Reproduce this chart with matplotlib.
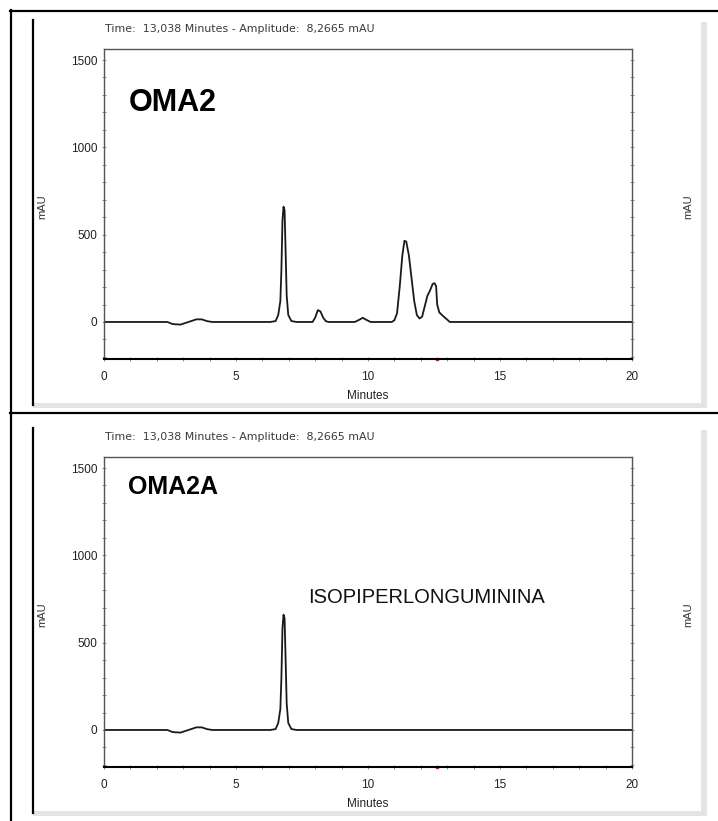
import matplotlib.pyplot as plt
from matplotlib.lines import Line2D
from matplotlib.patches import Rectangle

W, H = 718, 821
plt.rcParams['font.family'] = ['Liberation Sans', 'DejaVu Sans']

# chromatogram traces (minutes, mAU)
time_oma2 = [0.0, 2.4, 2.6, 2.9, 3.1, 3.3, 3.5, 3.7, 3.9, 4.1, 6.3, 6.5, 6.6, 6.68, 6.72,
             6.76, 6.8, 6.84, 6.88, 6.92, 6.98, 7.1, 7.3, 7.9, 8.0, 8.1, 8.2, 8.3, 8.4,
             8.5, 9.5, 9.7, 9.8, 9.9, 10.1, 10.9, 11.0, 11.1, 11.2, 11.3, 11.38, 11.45,
             11.55, 11.65, 11.75, 11.85, 11.95, 12.05, 12.15, 12.25, 12.35, 12.45, 12.52,
             12.58, 12.62, 12.7, 12.8, 12.95, 13.1, 20.0]
mau_oma2 = [0, 0, -12, -15, -5, 5, 15, 15, 5, 0, 0, 5, 40, 120, 300,
            580, 660, 640, 400, 150, 40, 5, 0, 0, 25, 68, 60, 25, 5,
            0, 0, 15, 24, 15, 0, 0, 10, 50, 200, 380, 465, 460,
            380, 250, 120, 40, 20, 30, 90, 150, 180, 218, 222,
            205, 100, 55, 40, 20, 0, 0]

time_oma2a = [0.0, 2.4, 2.6, 2.9, 3.1, 3.3, 3.5, 3.7, 3.9, 4.1, 6.3, 6.5, 6.6, 6.68, 6.72,
              6.76, 6.8, 6.84, 6.88, 6.92, 6.98, 7.1, 7.3, 20.0]
mau_oma2a = [0, 0, -12, -15, -5, 5, 15, 15, 5, 0, 0, 5, 40, 120, 300,
             580, 660, 640, 400, 150, 40, 5, 0, 0]

sample_names = ["OMA2", "OMA2A"]
title_text = "Time:  13,038 Minutes - Amplitude:  8,2665 mAU"
peak_label = "ISOPIPERLONGUMININA"
y_ticks = [0, 500, 1000, 1500]
x_ticks = [0, 5, 10, 15, 20]
cursor_time = 12.6


def fx(px):
    return px / W


def fy(py):
    return 1 - py / H


def hline(fig, x0, x1, y, color, lw):
    fig.add_artist(Line2D([fx(x0), fx(x1)], [fy(y), fy(y)], color=color, lw=lw))


def vline(fig, x, y0, y1, color, lw):
    fig.add_artist(Line2D([fx(x), fx(x)], [fy(y0), fy(y1)], color=color, lw=lw))


def draw_panel(fig, top, times, values, name, name_size, name_y, label=None):
    # window frame
    vline(fig, 32.5, top + 10, top + 395, 'black', 1.6)
    fig.add_artist(Rectangle((fx(701), fy(top + 398)), 6 / W, 386 / H, color='#e4e4e4', lw=0))
    fig.add_artist(Rectangle((fx(33), fy(top + 398)), 674 / W, 5 / H, color='#e4e4e4', lw=0))

    fig.text(fx(105), fy(top + 19), title_text, fontsize=7.9, family='DejaVu Sans',
             color='#3a3a3a', va='center')
    fig.text(fx(42), fy(top + 197), "mAU", fontsize=8, rotation=90, ha='center', va='center', color='#333333')
    fig.text(fx(688), fy(top + 197), "mAU", fontsize=8, rotation=90, ha='center', va='center', color='#333333')

    ax = fig.add_axes([fx(104), fy(top + 349), (632 - 104) / W, 310 / H])
    ax.plot(times, values, color='#1a1a1a', lw=1.3)
    ax.set_xlim(0, 20)
    ax.set_ylim(-212, 1563)
    ax.set_xticks(x_ticks)
    ax.set_xticks(range(0, 21), minor=True)
    ax.set_yticks(y_ticks)
    ax.set_yticks(range(-200, 1600, 100), minor=True)
    ax.tick_params(which='both', direction='inout', length=2.5, width=0.6, colors='#777777',
                   labelcolor='#222222', labelsize=8.5, right=True)
    ax.tick_params(axis='x', pad=7.5)
    ax.tick_params(axis='y', pad=3.5)
    for s in ['top', 'left', 'right']:
        ax.spines[s].set_color('#555555')
        ax.spines[s].set_linewidth(1.0)
    ax.spines['bottom'].set_color('black')
    ax.spines['bottom'].set_linewidth(1.5)
    ax.set_xlabel("Minutes", fontsize=8.5, color='#222222', labelpad=5)
    ax.plot([cursor_time], [-212], marker='s', ms=1.5, color='red', clip_on=False)

    ax.text(0.046, name_y, name, transform=ax.transAxes, fontsize=name_size, fontweight='bold',
            va='center', ha='left')
    if label:
        ax.text(7.74, 727, label, fontsize=14.5, va='baseline', ha='left', color='#111111')
    return ax


fig = plt.figure(figsize=(W / 100, H / 100), dpi=100)
fig.patch.set_facecolor('white')

# table borders
hline(fig, 10, 718, 11, 'black', 1.6)
vline(fig, 11, 10, 821, 'black', 1.6)
hline(fig, 10, 718, 413, 'black', 1.6)

draw_panel(fig, 10, time_oma2, mau_oma2, sample_names[0], 22, 0.825)
draw_panel(fig, 418, time_oma2a, mau_oma2a, sample_names[1], 18, 0.903, peak_label)

fig.savefig("out.png", dpi=100)
